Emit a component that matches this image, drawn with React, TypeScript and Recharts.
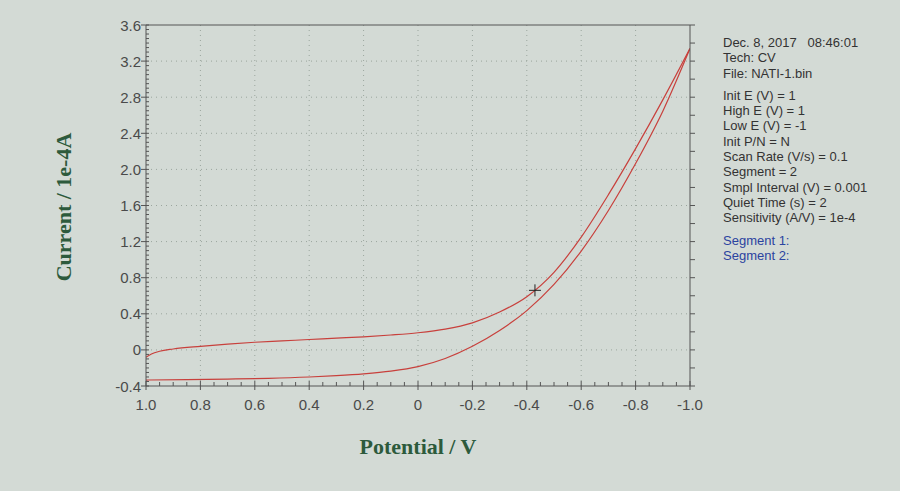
import React from "react";
import {
  LineChart,
  Line,
  XAxis,
  YAxis,
  ReferenceLine,
  ReferenceDot,
} from "recharts";

// segment 1: 1.0 V -> -1.0 V  (potential V, current 1e-4 A)
const SEG1_E = [1.0, 0.98, 0.95, 0.9, 0.8, 0.7, 0.6, 0.5, 0.4, 0.3, 0.2, 0.1, 0.0, -0.1, -0.2, -0.3, -0.4, -0.5, -0.6, -0.7, -0.8, -0.9, -1.0];
const SEG1_I = [-0.08, -0.045, -0.015, 0.01, 0.04, 0.065, 0.085, 0.1, 0.115, 0.13, 0.145, 0.165, 0.19, 0.23, 0.3, 0.42, 0.59, 0.86, 1.25, 1.72, 2.23, 2.77, 3.34];

// segment 2: -1.0 V -> 1.0 V
const SEG2_E = [-1.0, -0.9, -0.8, -0.7, -0.6, -0.5, -0.4, -0.3, -0.2, -0.1, 0.0, 0.1, 0.2, 0.3, 0.4, 0.55, 0.7, 0.85, 1.0];
const SEG2_I = [3.34, 2.645, 2.065, 1.545, 1.095, 0.725, 0.435, 0.215, 0.04, -0.095, -0.185, -0.235, -0.265, -0.285, -0.3, -0.315, -0.323, -0.329, -0.334];

const CURSOR = { e: -0.43, i: 0.66 };

const X_MAJOR = [1.0, 0.8, 0.6, 0.4, 0.2, 0, -0.2, -0.4, -0.6, -0.8, -1.0];
const Y_MAJOR = [-0.4, 0, 0.4, 0.8, 1.2, 1.6, 2.0, 2.4, 2.8, 3.2, 3.6];

const INFO_HEAD = ["Dec. 8, 2017   08:46:01", "Tech: CV", "File: NATI-1.bin"];
const INFO_PARAMS = [
  "Init E (V) = 1",
  "High E (V) = 1",
  "Low E (V) = -1",
  "Init P/N = N",
  "Scan Rate (V/s) = 0.1",
  "Segment = 2",
  "Smpl Interval (V) = 0.001",
  "Quiet Time (s) = 2",
  "Sensitivity (A/V) = 1e-4",
];
const SEGMENTS = ["Segment 1:", "Segment 2:"];

const seg1 = SEG1_E.map((e, k) => ({ e, i: SEG1_I[k] }));
const seg2 = SEG2_E.map((e, k) => ({ e, i: SEG2_I[k] }));

// minor tick positions, 0.05 apart
const X_TICKS = Array.from({ length: 41 }, (_, k) => Math.round((-1 + k * 0.05) * 100) / 100);
const Y_TICKS = Array.from({ length: 81 }, (_, k) => Math.round((-0.4 + k * 0.05) * 100) / 100);
const Y_RIGHT_TICKS = Array.from({ length: 21 }, (_, k) => Math.round((-0.4 + k * 0.2) * 100) / 100);

const BG = "#d3dad5";
const AXIS = "#555";
const RED = "#c8403c";
const TICK_FONT = "'Liberation Sans', Arial, sans-serif";

const fmt = (v: number) => (Math.abs(v) < 1e-9 ? "0" : v.toFixed(1));
const isXMajor = (v: number) => Math.round(v * 100) % 20 === 0;
const isYMajor = (v: number) => Math.round(v * 100) % 40 === 0;

function BottomTick(props: any) {
  const { x, y, payload } = props;
  const major = isXMajor(payload.value);
  return (
    <g>
      <line x1={x} x2={x} y1={y - (major ? 5 : 4)} y2={y + (major ? 4 : 0)} stroke={AXIS} />
      {major && (
        <text x={x} y={y + 24} textAnchor="middle" fontSize={15} fontFamily={TICK_FONT} fill="#4a4a4a">
          {fmt(payload.value)}
        </text>
      )}
    </g>
  );
}

function TopTick(props: any) {
  const { x, y, payload } = props;
  const major = isXMajor(payload.value);
  return <line x1={x} x2={x} y1={y} y2={y - (major ? 7 : 3)} stroke={AXIS} />;
}

function LeftTick(props: any) {
  const { x, y, payload } = props;
  const major = isYMajor(payload.value);
  return (
    <g>
      <line x1={x - (major ? 5 : 0)} x2={x + 3} y1={y} y2={y} stroke={AXIS} />
      {major && (
        <text x={x - 5} y={y + 5.5} textAnchor="end" fontSize={15} fontFamily={TICK_FONT} fill="#4a4a4a">
          {fmt(payload.value)}
        </text>
      )}
    </g>
  );
}

function RightTick(props: any) {
  const { x, y } = props;
  return <line x1={x} x2={x + 5} y1={y} y2={y} stroke={AXIS} />;
}

function Cross(props: any) {
  const { cx, cy } = props;
  return (
    <g stroke="#222" strokeWidth={1}>
      <line x1={cx - 6} x2={cx + 6} y1={cy} y2={cy} />
      <line x1={cx} x2={cx} y1={cy - 6} y2={cy + 6} />
    </g>
  );
}

export default function App() {
  return (
    <div
      style={{
        position: "fixed",
        left: 0,
        top: 0,
        width: 900,
        height: 491,
        background: BG,
        overflow: "hidden",
      }}
    >
      <LineChart width={900} height={491} margin={{ top: 5, right: 190, bottom: 75, left: 0 }}>
        <XAxis
          xAxisId="b"
          dataKey="e"
          type="number"
          domain={[-1, 1]}
          reversed
          allowDataOverflow
          ticks={X_TICKS}
          interval={0}
          tickSize={0}
          tickMargin={0}
          tick={<BottomTick />}
          axisLine={{ stroke: AXIS }}
          height={30}
        />
        <XAxis
          xAxisId="t"
          orientation="top"
          type="number"
          domain={[-1, 1]}
          reversed
          allowDataOverflow
          ticks={X_TICKS}
          interval={0}
          tickSize={0}
          tickMargin={0}
          tick={<TopTick />}
          axisLine={{ stroke: AXIS }}
          height={20}
        />
        <YAxis
          yAxisId="l"
          type="number"
          domain={[-0.4, 3.6]}
          allowDataOverflow
          ticks={Y_TICKS}
          interval={0}
          tickSize={0}
          tickMargin={0}
          tick={<LeftTick />}
          axisLine={{ stroke: AXIS }}
          width={146}
        />
        <YAxis
          yAxisId="r"
          orientation="right"
          type="number"
          domain={[-0.4, 3.6]}
          allowDataOverflow
          ticks={Y_RIGHT_TICKS}
          interval={0}
          tickSize={0}
          tickMargin={0}
          tick={<RightTick />}
          axisLine={{ stroke: AXIS }}
          width={20}
        />

        {X_MAJOR.slice(1, -1).map((v) => (
          <ReferenceLine key={"x" + v} xAxisId="b" yAxisId="l" x={v} stroke="#9aa59d" strokeDasharray="1 4" />
        ))}
        {Y_MAJOR.slice(1, -1).map((v) => (
          <ReferenceLine key={"y" + v} xAxisId="b" yAxisId="l" y={v} stroke="#9aa59d" strokeDasharray="1 4" />
        ))}

        <Line
          xAxisId="b"
          yAxisId="l"
          data={seg1}
          dataKey="i"
          type="monotone"
          stroke={RED}
          strokeWidth={1.2}
          dot={false}
          isAnimationActive={false}
        />
        <Line
          xAxisId="b"
          yAxisId="l"
          data={seg2}
          dataKey="i"
          type="monotone"
          stroke={RED}
          strokeWidth={1.2}
          dot={false}
          isAnimationActive={false}
        />
        <ReferenceDot xAxisId="b" yAxisId="l" x={CURSOR.e} y={CURSOR.i} r={6} shape={<Cross />} />
      </LineChart>

      <div
        style={{
          position: "absolute",
          left: 64,
          top: 207,
          transform: "translate(-50%, -50%) rotate(-90deg)",
          whiteSpace: "nowrap",
          fontFamily: "'Liberation Serif', 'Times New Roman', serif",
          fontWeight: "bold",
          fontSize: 22,
          color: "#2d5a3c",
        }}
      >
        Current / 1e-4A
      </div>
      <div
        style={{
          position: "absolute",
          left: 418,
          top: 447,
          transform: "translate(-50%, -50%)",
          whiteSpace: "nowrap",
          fontFamily: "'Liberation Serif', 'Times New Roman', serif",
          fontWeight: "bold",
          fontSize: 22,
          color: "#2d5a3c",
        }}
      >
        Potential / V
      </div>

      <div
        style={{
          position: "absolute",
          left: 723,
          top: 35,
          fontFamily: TICK_FONT,
          fontSize: 13,
          lineHeight: "15.3px",
          color: "#333",
          whiteSpace: "pre",
        }}
      >
        {INFO_HEAD.map((s) => (
          <div key={s}>{s}</div>
        ))}
        <div style={{ height: 7 }} />
        {INFO_PARAMS.map((s) => (
          <div key={s}>{s}</div>
        ))}
        <div style={{ height: 7 }} />
        {SEGMENTS.map((s) => (
          <div key={s} style={{ color: "#2b43a0" }}>
            {s}
          </div>
        ))}
      </div>
    </div>
  );
}
